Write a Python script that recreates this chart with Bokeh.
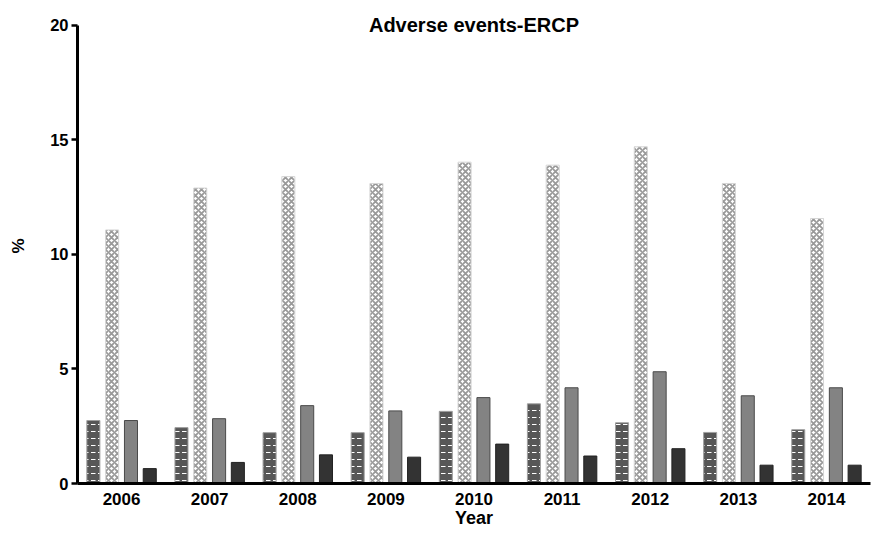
from bokeh.plotting import figure
from bokeh.models import (ColumnDataSource, Label, FixedTicker, FactorRange, Range1d)
from bokeh.transform import dodge
from bokeh.embed import file_html
from bokeh.resources import INLINE

# ---- data ----
years = ["2006", "2007", "2008", "2009", "2010", "2011", "2012", "2013", "2014"]
series_brick = [2.75, 2.44, 2.22, 2.22, 3.15, 3.48, 2.65, 2.23, 2.35]
series_checker = [11.07, 12.9, 13.4, 13.1, 14.03, 13.9, 14.7, 13.1, 11.57]
series_gray = [2.75, 2.83, 3.4, 3.17, 3.75, 4.18, 4.88, 3.83, 4.18]
series_black = [0.65, 0.92, 1.25, 1.15, 1.72, 1.2, 1.52, 0.8, 0.8]
y_ticks = [0, 5, 10, 15, 20]
y_axis_bounds = (0, 20)
y_view_end = 20.74   # a little head-room above the axis for the title

source = ColumnDataSource(dict(year=years, brick=series_brick, checker=series_checker,
                               gray=series_gray, black=series_black))

FONT = "Liberation Sans"

p = figure(x_range=FactorRange(*years, range_padding=0),
           y_range=Range1d(y_axis_bounds[0], y_view_end),
           width=875, height=531, output_backend="svg", toolbar_location=None,
           min_border_left=77, min_border_right=5, min_border_top=8,
           min_border_bottom=48)
p.outline_line_color = None
p.xgrid.grid_line_color = None
p.ygrid.grid_line_color = None
p.background_fill_color = "white"

W = 0.148
p.vbar(x=dodge("year", -0.32, range=p.x_range), top="brick", width=W, source=source,
       fill_color="#575757", line_color="#a0a0a0", line_width=1,
       hatch_pattern="horizontal_dash", hatch_scale=7, hatch_weight=1,
       hatch_color="white")
p.vbar(x=dodge("year", -0.107, range=p.x_range), top="checker", width=W, source=source,
       fill_color="white", line_color="#d5d5d5", line_width=1,
       hatch_pattern="diagonal_cross", hatch_scale=6, hatch_weight=1.8,
       hatch_color="#999999")
p.vbar(x=dodge("year", 0.107, range=p.x_range), top="gray", width=W, source=source,
       fill_color="#838383", line_color="#4a4a4a", line_width=1)
p.vbar(x=dodge("year", 0.32, range=p.x_range), top="black", width=W, source=source,
       fill_color="#333333", line_color="#222222", line_width=1)

# axes
p.yaxis.ticker = FixedTicker(ticks=y_ticks)
p.yaxis.bounds = y_axis_bounds
p.yaxis.axis_line_width = 3
p.yaxis.axis_line_color = "black"
p.yaxis.major_tick_line_width = 2.5
p.yaxis.major_tick_out = 6
p.yaxis.major_tick_in = 0
p.yaxis.minor_tick_line_color = None
p.yaxis.major_label_text_font = FONT
p.yaxis.major_label_text_font_style = "bold"
p.yaxis.major_label_text_font_size = "16.5px"
p.yaxis.major_label_text_color = "black"
p.yaxis.major_label_standoff = 3
p.yaxis.axis_label = "%"
p.yaxis.axis_label_text_font = FONT
p.yaxis.axis_label_text_font_style = "bold"
p.yaxis.axis_label_text_font_size = "17px"
p.yaxis.axis_label_text_color = "black"
p.yaxis.axis_label_standoff = 19

p.xaxis.axis_line_width = 3
p.xaxis.axis_line_color = "black"
p.xaxis.major_tick_line_color = None
p.xaxis.major_tick_out = 0
p.xaxis.major_tick_in = 0
p.xaxis.minor_tick_line_color = None
p.xaxis.major_label_text_font = FONT
p.xaxis.major_label_text_font_style = "bold"
p.xaxis.major_label_text_font_size = "17px"
p.xaxis.major_label_text_color = "black"
p.xaxis.major_label_standoff = 9
p.xaxis.axis_label = "Year"
p.xaxis.axis_label_text_font = FONT
p.xaxis.axis_label_text_font_style = "bold"
p.xaxis.axis_label_text_font_size = "18px"
p.xaxis.axis_label_text_color = "black"
p.xaxis.axis_label_standoff = 0

# title, centred over the categorical axis (synthetic coordinate), level with the top tick
title_x = len(years) / 2
title = Label(x=title_x, y=y_axis_bounds[1], text="Adverse events-ERCP", text_align="center",
              text_baseline="middle", text_font=FONT, text_font_style="bold",
              text_font_size="20px", text_color="black")
p.add_layout(title)

open("out.html", "w").write(file_html(p, INLINE))
